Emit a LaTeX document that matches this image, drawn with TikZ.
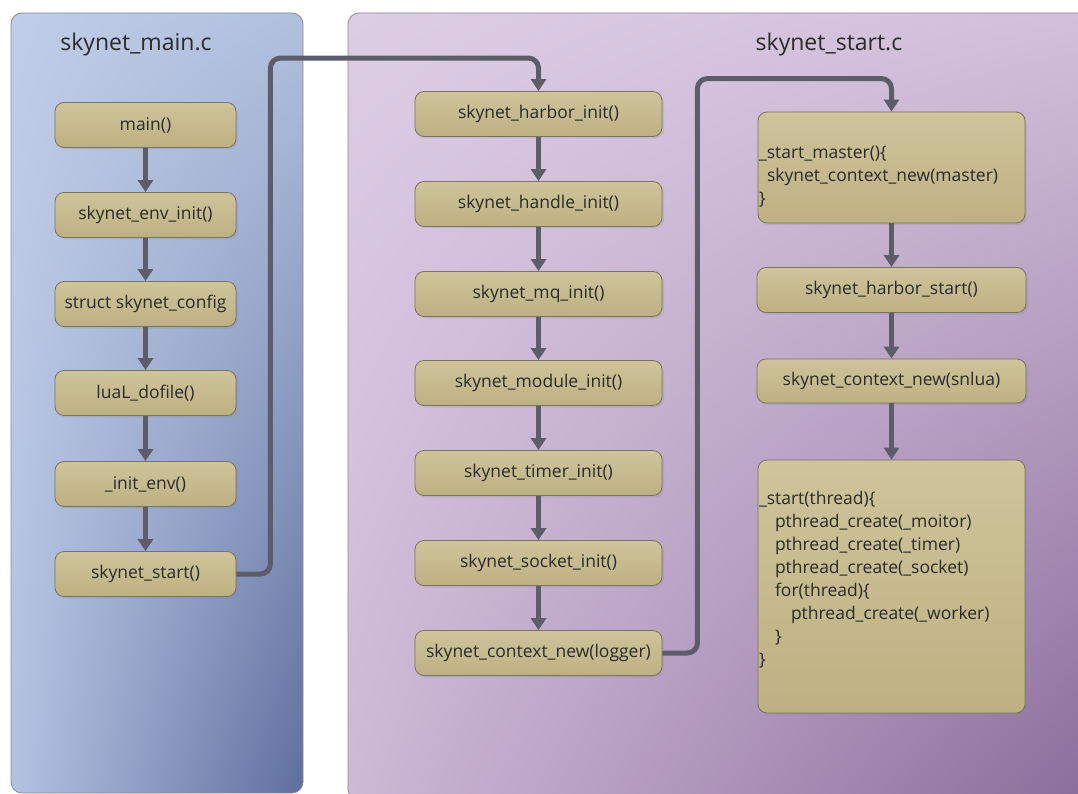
\documentclass[tikz,border=0pt]{standalone}
\usepackage{fontspec}
\setmainfont{Open Sans}
\usetikzlibrary{arrows.meta,shadows,calc,shadings}
\definecolor{arrowc}{HTML}{5C5C6A}
\definecolor{boxtop}{HTML}{CFC49A}
\definecolor{boxbot}{HTML}{BDB183}
\definecolor{boxedge}{HTML}{7A735F}
\definecolor{txt}{HTML}{2A2A2A}
\definecolor{panedge}{HTML}{8A8A94}
\definecolor{bul}{HTML}{BFCDE8}
\definecolor{bur}{HTML}{B2C0DF}
\definecolor{bll}{HTML}{B4C2E2}
\definecolor{blr}{HTML}{5F6F9D}
\definecolor{pul}{HTML}{DDCDE4}
\definecolor{pur}{HTML}{D2BFDA}
\definecolor{pll}{HTML}{CDB8D6}
\definecolor{plr}{HTML}{8A6C9A}
\tikzset{
  fbox/.style={draw=boxedge, line width=0.8pt, rounded corners=9pt, top color=boxtop, bottom color=boxbot,
    drop shadow={opacity=0.2, shadow xshift=2pt, shadow yshift=-2pt},
    minimum height=45pt, inner sep=2pt, text=txt, font=\fontsize{17.5}{20}\selectfont},
  lbox/.style={fbox, minimum width=181pt},
  mbox/.style={fbox, minimum width=247pt},
  rbox/.style={fbox, minimum width=269pt},
  cbox/.style={fbox, text width=265pt, align=left, inner xsep=1pt, font=\fontsize{17.5}{23}\selectfont},
  conn/.style={draw=arrowc, line width=5pt, rounded corners=10pt, -{Triangle[width=15pt,length=12pt]}},
  title/.style={text=txt, font=\fontsize{23}{27}\selectfont},
}
\begin{document}
\begin{tikzpicture}[x=1pt,y=-1pt]
\useasboundingbox (0,0) rectangle (1078,794);
% panels
\shade[rounded corners=11pt, upper left=bul, upper right=bur, lower left=bll, lower right=blr]
  (11,13) rectangle (303,793);
\draw[panedge, line width=0.8pt, rounded corners=11pt] (11,13) rectangle (303,793);
\shade[rounded corners=11pt, upper left=pul, upper right=pur, lower left=pll, lower right=plr]
  (348,13) rectangle (1095,800);
\draw[panedge, line width=0.8pt, rounded corners=11pt] (348,13) rectangle (1095,800);
\node[title] (t1) at (136,45) {skynet\_main.c};
\node[title] (t2) at (829,45) {skynet\_start.c};
% left column
\node[lbox] (main) at (145.5,125) {main()};
\node[lbox] (env) at (145.5,215) {skynet\_env\_init()};
\node[lbox] (cfg) at (145.5,304) {struct skynet\_config};
\node[lbox] (lua) at (145.5,393) {luaL\_dofile()};
\node[lbox] (ienv) at (145.5,484) {\_init\_env()};
\node[lbox] (start) at (145.5,574) {skynet\_start()};
% middle column
\node[mbox] (harbor) at (538.5,114) {skynet\_harbor\_init()};
\node[mbox] (handle) at (538.5,204) {skynet\_handle\_init()};
\node[mbox] (mq) at (538.5,294) {skynet\_mq\_init()};
\node[mbox] (module) at (538.5,383) {skynet\_module\_init()};
\node[mbox] (timer) at (538.5,473) {skynet\_timer\_init()};
\node[mbox] (socket) at (538.5,563) {skynet\_socket\_init()};
\node[mbox] (logger) at (538.5,653) {skynet\_context\_new(logger)};
% right column
\node[cbox, minimum height=111pt] (master) at (891.5,167.5) {\rule{0pt}{31pt}\_start\_master()\{\\\hspace*{8pt}skynet\_context\_new(master)\\\}};
\node[rbox] (hstart) at (891.5,290) {skynet\_harbor\_start()};
\node[rbox, minimum height=44pt] (snlua) at (891.5,381) {skynet\_context\_new(snlua)};
\node[cbox, minimum height=253pt] (thread) at (891.5,586.5) {\_start(thread)\{\\
\hspace*{16pt}pthread\_create(\_moitor)\\
\hspace*{16pt}pthread\_create(\_timer)\\
\hspace*{16pt}pthread\_create(\_socket)\\
\hspace*{16pt}for(thread)\{\\
\hspace*{32pt}pthread\_create(\_worker)\\
\hspace*{16pt}\}\\
\}\rule[-17pt]{0pt}{1pt}};
% arrows
\foreach \a/\b in {main/env, env/cfg, cfg/lua, lua/ienv, ienv/start,
  harbor/handle, handle/mq, mq/module, module/timer, timer/socket, socket/logger,
  master/hstart, hstart/snlua, snlua/thread}
  \draw[conn] (\a.south) -- (\b.north);
\draw[conn] (start.east) -- ++(34,0) |- ($(harbor.north)+(0,-33)$) -- (harbor.north);
\draw[conn] (logger.east) -- ++(35,0) |- ($(master.north)+(0,-33)$) -- (master.north);
\end{tikzpicture}
\end{document}
